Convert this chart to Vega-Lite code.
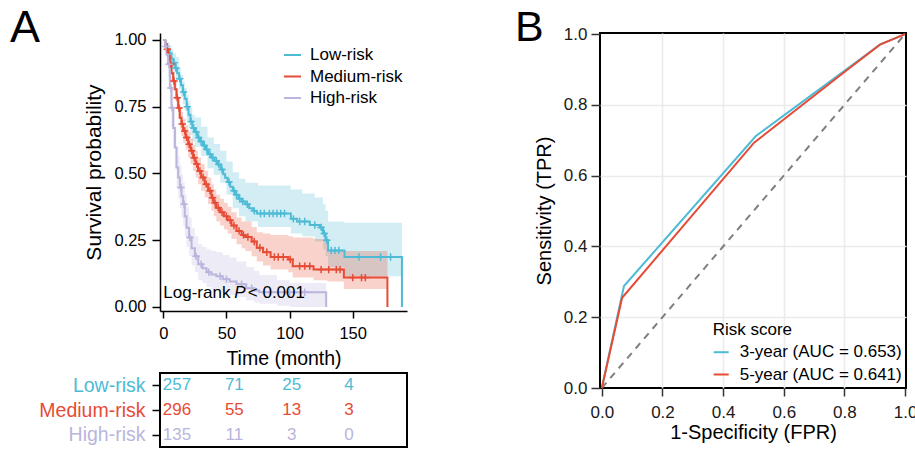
{
"$schema": "https://vega.github.io/schema/vega-lite/v6.json",
"background": "white",
"padding": {"left": 10, "top": 5, "right": 0, "bottom": 0},
"bounds": "flush",
"spacing": 440,
"resolve": {"scale": {"color": "independent", "fill": "independent", "stroke": "independent"}, "legend": {"color": "independent", "fill": "independent", "stroke": "independent"}},
"config": {
  "font": "Liberation Sans",
  "axis": {"labelFontWeight": "normal", "titleFontWeight": "normal", "grid": false, "labelColor": "#1a1a1a", "titleColor": "black", "labelFlush": false, "labelOverlap": false},
  "legend": {"titleFontWeight": "normal", "labelColor": "black", "titleColor": "black"},
  "title": {"fontWeight": "normal", "color": "black", "offset": 0}
},
"datasets": {
  "km": [
    {"g":"Low-risk","t":0,"s":1},{"g":"Low-risk","t":1.5,"s":0.985},{"g":"Low-risk","t":3,"s":0.965},{"g":"Low-risk","t":5,"s":0.95},{"g":"Low-risk","t":6.5,"s":0.93},{"g":"Low-risk","t":8,"s":0.915},{"g":"Low-risk","t":9.5,"s":0.895},{"g":"Low-risk","t":11,"s":0.875},{"g":"Low-risk","t":12.5,"s":0.855},{"g":"Low-risk","t":14,"s":0.83},{"g":"Low-risk","t":15.5,"s":0.805},{"g":"Low-risk","t":17,"s":0.78},{"g":"Low-risk","t":18.5,"s":0.75},{"g":"Low-risk","t":20,"s":0.72},{"g":"Low-risk","t":21.5,"s":0.695},{"g":"Low-risk","t":23,"s":0.67},{"g":"Low-risk","t":25,"s":0.655},{"g":"Low-risk","t":27,"s":0.635},{"g":"Low-risk","t":29,"s":0.62},{"g":"Low-risk","t":31.5,"s":0.605},{"g":"Low-risk","t":33.5,"s":0.59},{"g":"Low-risk","t":35.5,"s":0.572},{"g":"Low-risk","t":38,"s":0.56},{"g":"Low-risk","t":40.5,"s":0.548},{"g":"Low-risk","t":43,"s":0.534},{"g":"Low-risk","t":45.5,"s":0.515},{"g":"Low-risk","t":47.5,"s":0.497},{"g":"Low-risk","t":49,"s":0.484},{"g":"Low-risk","t":51,"s":0.468},{"g":"Low-risk","t":53,"s":0.45},{"g":"Low-risk","t":55,"s":0.435},{"g":"Low-risk","t":57,"s":0.42},{"g":"Low-risk","t":59.5,"s":0.405},{"g":"Low-risk","t":62,"s":0.395},{"g":"Low-risk","t":65,"s":0.385},{"g":"Low-risk","t":68,"s":0.37},{"g":"Low-risk","t":71,"s":0.36},{"g":"Low-risk","t":74,"s":0.35},{"g":"Low-risk","t":101,"s":0.33},{"g":"Low-risk","t":106,"s":0.32},{"g":"Low-risk","t":116,"s":0.307},{"g":"Low-risk","t":124,"s":0.298},{"g":"Low-risk","t":126.5,"s":0.275},{"g":"Low-risk","t":128.5,"s":0.25},{"g":"Low-risk","t":130.5,"s":0.212},{"g":"Low-risk","t":143.5,"s":0.187},{"g":"Low-risk","t":189,"s":0},
    {"g":"Medium-risk","t":0,"s":1},{"g":"Medium-risk","t":1.5,"s":0.985},{"g":"Medium-risk","t":2.6,"s":0.965},{"g":"Medium-risk","t":4,"s":0.94},{"g":"Medium-risk","t":5.2,"s":0.91},{"g":"Medium-risk","t":6.5,"s":0.875},{"g":"Medium-risk","t":7.8,"s":0.846},{"g":"Medium-risk","t":9.2,"s":0.815},{"g":"Medium-risk","t":10.5,"s":0.784},{"g":"Medium-risk","t":11.8,"s":0.745},{"g":"Medium-risk","t":13.1,"s":0.709},{"g":"Medium-risk","t":14.4,"s":0.685},{"g":"Medium-risk","t":15.7,"s":0.659},{"g":"Medium-risk","t":17.7,"s":0.635},{"g":"Medium-risk","t":19.7,"s":0.609},{"g":"Medium-risk","t":21.6,"s":0.585},{"g":"Medium-risk","t":23.6,"s":0.559},{"g":"Medium-risk","t":25.5,"s":0.535},{"g":"Medium-risk","t":27.5,"s":0.509},{"g":"Medium-risk","t":30,"s":0.485},{"g":"Medium-risk","t":32.8,"s":0.46},{"g":"Medium-risk","t":35.5,"s":0.435},{"g":"Medium-risk","t":38.1,"s":0.409},{"g":"Medium-risk","t":40,"s":0.39},{"g":"Medium-risk","t":42,"s":0.372},{"g":"Medium-risk","t":45,"s":0.355},{"g":"Medium-risk","t":48,"s":0.34},{"g":"Medium-risk","t":51,"s":0.325},{"g":"Medium-risk","t":54,"s":0.305},{"g":"Medium-risk","t":58,"s":0.285},{"g":"Medium-risk","t":62,"s":0.27},{"g":"Medium-risk","t":65,"s":0.262},{"g":"Medium-risk","t":70,"s":0.245},{"g":"Medium-risk","t":74,"s":0.222},{"g":"Medium-risk","t":79,"s":0.205},{"g":"Medium-risk","t":85,"s":0.187},{"g":"Medium-risk","t":99,"s":0.178},{"g":"Medium-risk","t":102.5,"s":0.153},{"g":"Medium-risk","t":119,"s":0.14},{"g":"Medium-risk","t":143,"s":0.11},{"g":"Medium-risk","t":177.5,"s":0},
    {"g":"High-risk","t":0,"s":1},{"g":"High-risk","t":1.3,"s":0.975},{"g":"High-risk","t":2.6,"s":0.945},{"g":"High-risk","t":3.9,"s":0.909},{"g":"High-risk","t":5.2,"s":0.82},{"g":"High-risk","t":6.5,"s":0.746},{"g":"High-risk","t":7.8,"s":0.67},{"g":"High-risk","t":9.2,"s":0.597},{"g":"High-risk","t":10.5,"s":0.522},{"g":"High-risk","t":11.8,"s":0.485},{"g":"High-risk","t":13.1,"s":0.447},{"g":"High-risk","t":14.4,"s":0.415},{"g":"High-risk","t":15.7,"s":0.385},{"g":"High-risk","t":17,"s":0.34},{"g":"High-risk","t":18.4,"s":0.297},{"g":"High-risk","t":20.4,"s":0.26},{"g":"High-risk","t":22.4,"s":0.22},{"g":"High-risk","t":25,"s":0.19},{"g":"High-risk","t":27.7,"s":0.16},{"g":"High-risk","t":31,"s":0.145},{"g":"High-risk","t":34.3,"s":0.13},{"g":"High-risk","t":38,"s":0.122},{"g":"High-risk","t":42,"s":0.115},{"g":"High-risk","t":47,"s":0.104},{"g":"High-risk","t":52.6,"s":0.095},{"g":"High-risk","t":58,"s":0.085},{"g":"High-risk","t":65.7,"s":0.07},{"g":"High-risk","t":72,"s":0.062},{"g":"High-risk","t":76,"s":0.055},{"g":"High-risk","t":129,"s":0}
  ],
  "band": [
    {"g":"Low-risk","t":0,"lo":1,"hi":1},{"g":"Low-risk","t":1.5,"lo":0.97,"hi":1},{"g":"Low-risk","t":3,"lo":0.94,"hi":0.99},{"g":"Low-risk","t":5,"lo":0.92,"hi":0.98},{"g":"Low-risk","t":6.5,"lo":0.895,"hi":0.965},{"g":"Low-risk","t":8,"lo":0.875,"hi":0.95},{"g":"Low-risk","t":10,"lo":0.85,"hi":0.935},{"g":"Low-risk","t":12.5,"lo":0.815,"hi":0.895},{"g":"Low-risk","t":14,"lo":0.785,"hi":0.87},{"g":"Low-risk","t":15.5,"lo":0.76,"hi":0.845},{"g":"Low-risk","t":17,"lo":0.735,"hi":0.82},{"g":"Low-risk","t":18.5,"lo":0.7,"hi":0.795},{"g":"Low-risk","t":20,"lo":0.67,"hi":0.77},{"g":"Low-risk","t":21.5,"lo":0.645,"hi":0.745},{"g":"Low-risk","t":23,"lo":0.62,"hi":0.72},{"g":"Low-risk","t":25,"lo":0.6,"hi":0.71},{"g":"Low-risk","t":30,"lo":0.565,"hi":0.675},{"g":"Low-risk","t":35,"lo":0.52,"hi":0.635},{"g":"Low-risk","t":40,"lo":0.495,"hi":0.61},{"g":"Low-risk","t":45,"lo":0.465,"hi":0.585},{"g":"Low-risk","t":50,"lo":0.42,"hi":0.545},{"g":"Low-risk","t":55,"lo":0.37,"hi":0.505},{"g":"Low-risk","t":60,"lo":0.34,"hi":0.48},{"g":"Low-risk","t":65,"lo":0.32,"hi":0.465},{"g":"Low-risk","t":75,"lo":0.3,"hi":0.455},{"g":"Low-risk","t":101,"lo":0.275,"hi":0.44},{"g":"Low-risk","t":110,"lo":0.265,"hi":0.425},{"g":"Low-risk","t":120,"lo":0.245,"hi":0.41},{"g":"Low-risk","t":126.5,"lo":0.215,"hi":0.385},{"g":"Low-risk","t":128.5,"lo":0.19,"hi":0.36},{"g":"Low-risk","t":130.5,"lo":0.15,"hi":0.32},{"g":"Low-risk","t":143.5,"lo":0.115,"hi":0.315},{"g":"Low-risk","t":189,"lo":0.115,"hi":0.315},
    {"g":"Medium-risk","t":0,"lo":1,"hi":1},{"g":"Medium-risk","t":1.5,"lo":0.97,"hi":1},{"g":"Medium-risk","t":2.6,"lo":0.945,"hi":0.985},{"g":"Medium-risk","t":4,"lo":0.915,"hi":0.965},{"g":"Medium-risk","t":5.2,"lo":0.88,"hi":0.94},{"g":"Medium-risk","t":6.5,"lo":0.84,"hi":0.91},{"g":"Medium-risk","t":7.8,"lo":0.81,"hi":0.88},{"g":"Medium-risk","t":9.2,"lo":0.775,"hi":0.85},{"g":"Medium-risk","t":10.5,"lo":0.745,"hi":0.82},{"g":"Medium-risk","t":11.8,"lo":0.705,"hi":0.785},{"g":"Medium-risk","t":13.1,"lo":0.665,"hi":0.75},{"g":"Medium-risk","t":14.4,"lo":0.64,"hi":0.73},{"g":"Medium-risk","t":15.7,"lo":0.615,"hi":0.705},{"g":"Medium-risk","t":17.7,"lo":0.59,"hi":0.68},{"g":"Medium-risk","t":19.7,"lo":0.56,"hi":0.655},{"g":"Medium-risk","t":21.6,"lo":0.535,"hi":0.63},{"g":"Medium-risk","t":23.6,"lo":0.51,"hi":0.605},{"g":"Medium-risk","t":25.5,"lo":0.485,"hi":0.585},{"g":"Medium-risk","t":27.5,"lo":0.46,"hi":0.56},{"g":"Medium-risk","t":30,"lo":0.435,"hi":0.535},{"g":"Medium-risk","t":32.8,"lo":0.41,"hi":0.51},{"g":"Medium-risk","t":35.5,"lo":0.385,"hi":0.485},{"g":"Medium-risk","t":38.1,"lo":0.36,"hi":0.46},{"g":"Medium-risk","t":40,"lo":0.34,"hi":0.44},{"g":"Medium-risk","t":42,"lo":0.32,"hi":0.42},{"g":"Medium-risk","t":45,"lo":0.305,"hi":0.405},{"g":"Medium-risk","t":48,"lo":0.29,"hi":0.39},{"g":"Medium-risk","t":51,"lo":0.275,"hi":0.375},{"g":"Medium-risk","t":54,"lo":0.255,"hi":0.355},{"g":"Medium-risk","t":58,"lo":0.235,"hi":0.335},{"g":"Medium-risk","t":62,"lo":0.22,"hi":0.32},{"g":"Medium-risk","t":65,"lo":0.21,"hi":0.32},{"g":"Medium-risk","t":70,"lo":0.19,"hi":0.3},{"g":"Medium-risk","t":74,"lo":0.17,"hi":0.28},{"g":"Medium-risk","t":79,"lo":0.155,"hi":0.275},{"g":"Medium-risk","t":85,"lo":0.14,"hi":0.27},{"g":"Medium-risk","t":99,"lo":0.13,"hi":0.265},{"g":"Medium-risk","t":102.5,"lo":0.11,"hi":0.26},{"g":"Medium-risk","t":119,"lo":0.1,"hi":0.255},{"g":"Medium-risk","t":130,"lo":0.095,"hi":0.21},{"g":"Medium-risk","t":143,"lo":0.067,"hi":0.21},{"g":"Medium-risk","t":177.5,"lo":0.067,"hi":0.21},
    {"g":"High-risk","t":0,"lo":1,"hi":1},{"g":"High-risk","t":1.3,"lo":0.95,"hi":1},{"g":"High-risk","t":2.6,"lo":0.905,"hi":0.98},{"g":"High-risk","t":3.9,"lo":0.86,"hi":0.955},{"g":"High-risk","t":5.2,"lo":0.76,"hi":0.88},{"g":"High-risk","t":6.5,"lo":0.675,"hi":0.815},{"g":"High-risk","t":7.8,"lo":0.595,"hi":0.745},{"g":"High-risk","t":9.2,"lo":0.52,"hi":0.675},{"g":"High-risk","t":10.5,"lo":0.445,"hi":0.6},{"g":"High-risk","t":11.8,"lo":0.405,"hi":0.565},{"g":"High-risk","t":13.1,"lo":0.37,"hi":0.53},{"g":"High-risk","t":14.4,"lo":0.335,"hi":0.495},{"g":"High-risk","t":15.7,"lo":0.305,"hi":0.465},{"g":"High-risk","t":17,"lo":0.265,"hi":0.42},{"g":"High-risk","t":18.4,"lo":0.225,"hi":0.375},{"g":"High-risk","t":20.4,"lo":0.19,"hi":0.335},{"g":"High-risk","t":22.4,"lo":0.155,"hi":0.295},{"g":"High-risk","t":25,"lo":0.13,"hi":0.265},{"g":"High-risk","t":27.7,"lo":0.1,"hi":0.235},{"g":"High-risk","t":31,"lo":0.09,"hi":0.225},{"g":"High-risk","t":34.3,"lo":0.075,"hi":0.215},{"g":"High-risk","t":38,"lo":0.065,"hi":0.21},{"g":"High-risk","t":42,"lo":0.06,"hi":0.205},{"g":"High-risk","t":47,"lo":0.052,"hi":0.195},{"g":"High-risk","t":52.6,"lo":0.045,"hi":0.185},{"g":"High-risk","t":58,"lo":0.037,"hi":0.17},{"g":"High-risk","t":65.7,"lo":0.025,"hi":0.15},{"g":"High-risk","t":72,"lo":0.018,"hi":0.135},{"g":"High-risk","t":76,"lo":0.012,"hi":0.12},{"g":"High-risk","t":90,"lo":0.005,"hi":0.1},{"g":"High-risk","t":100,"lo":0,"hi":0.09},{"g":"High-risk","t":129,"lo":0,"hi":0.09}
  ],
  "cens": [
    {"g":"Low-risk","t":8.5,"s":0.915},{"g":"Low-risk","t":10,"s":0.895},{"g":"Low-risk","t":13,"s":0.855},{"g":"Low-risk","t":16,"s":0.805},{"g":"Low-risk","t":19,"s":0.75},{"g":"Low-risk","t":22,"s":0.695},{"g":"Low-risk","t":24,"s":0.67},{"g":"Low-risk","t":26,"s":0.655},{"g":"Low-risk","t":28,"s":0.635},{"g":"Low-risk","t":30,"s":0.62},{"g":"Low-risk","t":32.5,"s":0.605},{"g":"Low-risk","t":34.5,"s":0.59},{"g":"Low-risk","t":37,"s":0.572},{"g":"Low-risk","t":39,"s":0.56},{"g":"Low-risk","t":42,"s":0.548},{"g":"Low-risk","t":44,"s":0.534},{"g":"Low-risk","t":46.5,"s":0.515},{"g":"Low-risk","t":52,"s":0.468},{"g":"Low-risk","t":56,"s":0.435},{"g":"Low-risk","t":58,"s":0.42},{"g":"Low-risk","t":60.5,"s":0.405},{"g":"Low-risk","t":63,"s":0.395},{"g":"Low-risk","t":66.5,"s":0.385},{"g":"Low-risk","t":72,"s":0.36},{"g":"Low-risk","t":77,"s":0.35},{"g":"Low-risk","t":80,"s":0.35},{"g":"Low-risk","t":84,"s":0.35},{"g":"Low-risk","t":87,"s":0.35},{"g":"Low-risk","t":90,"s":0.35},{"g":"Low-risk","t":93,"s":0.35},{"g":"Low-risk","t":96,"s":0.35},{"g":"Low-risk","t":103,"s":0.33},{"g":"Low-risk","t":108,"s":0.32},{"g":"Low-risk","t":112,"s":0.32},{"g":"Low-risk","t":120,"s":0.307},{"g":"Low-risk","t":125,"s":0.298},{"g":"Low-risk","t":127.5,"s":0.275},{"g":"Low-risk","t":129.5,"s":0.25},{"g":"Low-risk","t":133,"s":0.212},{"g":"Low-risk","t":136,"s":0.212},{"g":"Low-risk","t":139,"s":0.212},{"g":"Low-risk","t":155,"s":0.187},{"g":"Low-risk","t":172,"s":0.187},{"g":"Low-risk","t":180,"s":0.187},
    {"g":"Medium-risk","t":3.2,"s":0.965},{"g":"Medium-risk","t":6,"s":0.91},{"g":"Medium-risk","t":8.5,"s":0.846},{"g":"Medium-risk","t":11,"s":0.784},{"g":"Medium-risk","t":12.5,"s":0.745},{"g":"Medium-risk","t":15,"s":0.685},{"g":"Medium-risk","t":17,"s":0.659},{"g":"Medium-risk","t":18.5,"s":0.635},{"g":"Medium-risk","t":20.5,"s":0.609},{"g":"Medium-risk","t":22.5,"s":0.585},{"g":"Medium-risk","t":24.5,"s":0.559},{"g":"Medium-risk","t":26.5,"s":0.535},{"g":"Medium-risk","t":29,"s":0.509},{"g":"Medium-risk","t":31.5,"s":0.485},{"g":"Medium-risk","t":34,"s":0.46},{"g":"Medium-risk","t":37,"s":0.435},{"g":"Medium-risk","t":39,"s":0.409},{"g":"Medium-risk","t":41,"s":0.39},{"g":"Medium-risk","t":43.5,"s":0.372},{"g":"Medium-risk","t":46.5,"s":0.355},{"g":"Medium-risk","t":50,"s":0.34},{"g":"Medium-risk","t":53,"s":0.325},{"g":"Medium-risk","t":56,"s":0.305},{"g":"Medium-risk","t":60,"s":0.285},{"g":"Medium-risk","t":63.5,"s":0.27},{"g":"Medium-risk","t":67,"s":0.262},{"g":"Medium-risk","t":72,"s":0.245},{"g":"Medium-risk","t":76.5,"s":0.222},{"g":"Medium-risk","t":82,"s":0.205},{"g":"Medium-risk","t":88,"s":0.187},{"g":"Medium-risk","t":91,"s":0.187},{"g":"Medium-risk","t":95,"s":0.187},{"g":"Medium-risk","t":100.5,"s":0.178},{"g":"Medium-risk","t":108,"s":0.153},{"g":"Medium-risk","t":112,"s":0.153},{"g":"Medium-risk","t":116,"s":0.153},{"g":"Medium-risk","t":125,"s":0.14},{"g":"Medium-risk","t":131,"s":0.14},{"g":"Medium-risk","t":137,"s":0.14},{"g":"Medium-risk","t":140,"s":0.14},{"g":"Medium-risk","t":150,"s":0.11},{"g":"Medium-risk","t":157,"s":0.11},{"g":"Medium-risk","t":160,"s":0.11},
    {"g":"High-risk","t":2,"s":0.975},{"g":"High-risk","t":4.5,"s":0.909},{"g":"High-risk","t":6,"s":0.82},{"g":"High-risk","t":7,"s":0.746},{"g":"High-risk","t":14,"s":0.447},{"g":"High-risk","t":16.5,"s":0.385},{"g":"High-risk","t":21,"s":0.26},{"g":"High-risk","t":26,"s":0.19},{"g":"High-risk","t":30,"s":0.16},{"g":"High-risk","t":36,"s":0.13},{"g":"High-risk","t":45,"s":0.115},{"g":"High-risk","t":50,"s":0.104},{"g":"High-risk","t":62,"s":0.085},{"g":"High-risk","t":70,"s":0.07},{"g":"High-risk","t":85,"s":0.055},{"g":"High-risk","t":100,"s":0.055},{"g":"High-risk","t":112,"s":0.055}
  ],
  "lr": [{"t": 0, "s": 0.035}],
  "risk": [
    {"g":"Low-risk","t":0,"n":"257"},{"g":"Low-risk","t":50,"n":"71"},{"g":"Low-risk","t":100,"n":"25"},{"g":"Low-risk","t":150,"n":"4"},
    {"g":"Medium-risk","t":0,"n":"296"},{"g":"Medium-risk","t":50,"n":"55"},{"g":"Medium-risk","t":100,"n":"13"},{"g":"Medium-risk","t":150,"n":"3"},
    {"g":"High-risk","t":0,"n":"135"},{"g":"High-risk","t":50,"n":"11"},{"g":"High-risk","t":100,"n":"3"},{"g":"High-risk","t":150,"n":"0"}
  ],
  "roc": [
    {"model":"3-year (AUC = 0.653)","fpr":0,"tpr":0},{"model":"3-year (AUC = 0.653)","fpr":0.073,"tpr":0.288},{"model":"3-year (AUC = 0.653)","fpr":0.508,"tpr":0.712},{"model":"3-year (AUC = 0.653)","fpr":0.8,"tpr":0.896},{"model":"3-year (AUC = 0.653)","fpr":0.917,"tpr":0.97},{"model":"3-year (AUC = 0.653)","fpr":1,"tpr":1},
    {"model":"5-year (AUC = 0.641)","fpr":0,"tpr":0},{"model":"5-year (AUC = 0.641)","fpr":0.067,"tpr":0.255},{"model":"5-year (AUC = 0.641)","fpr":0.502,"tpr":0.693},{"model":"5-year (AUC = 0.641)","fpr":0.8,"tpr":0.893},{"model":"5-year (AUC = 0.641)","fpr":0.917,"tpr":0.97},{"model":"5-year (AUC = 0.641)","fpr":1,"tpr":1}
  ],
  "diag": [{"x0": 0, "y0": 0, "x1": 1, "y1": 1}]
},
"hconcat": [
  {
    "bounds": "flush",
    "spacing": 62,
    "resolve": {"scale": {"color": "independent"}, "legend": {"color": "independent"}},
    "vconcat": [
      {
        "width": 247, "height": 278,
        "view": {"stroke": null},
        "title": {"text": "A", "fontSize": 45, "anchor": "start", "frame": "group", "orient": "top", "baseline": "alphabetic", "dx": -150, "dy": 59},
        "encoding": {
          "x": {"field": "t", "type": "quantitative", "scale": {"domain": [-2.6, 193], "nice": false, "zero": false},
                "axis": {"values": [0, 50, 100, 150], "title": "Time (month)", "titleFontSize": 19.5, "labelFontSize": 16.5, "tickSize": 7, "tickWidth": 1.5, "tickColor": "black", "domainColor": "black", "domainWidth": 1.5, "labelPadding": 7.5, "titlePadding": 7, "labelColor": "black"}}
        },
        "layer": [
          {
            "data": {"name": "band"},
            "mark": {"type": "area", "interpolate": "step-after", "opacity": 0.25},
            "encoding": {
              "y": {"field": "lo", "type": "quantitative", "title": "Survival probability", "scale": {"domain": [-0.015, 1.026], "nice": false, "zero": false},
                    "axis": {"values": [0, 0.25, 0.5, 0.75, 1], "format": ".2f", "title": "Survival probability", "titleFontSize": 21, "labelFontSize": 16.5, "tickSize": 8, "tickWidth": 1.5, "tickColor": "black", "domainColor": "black", "domainWidth": 1.5, "labelPadding": 6, "titlePadding": 9, "labelColor": "black"}},
              "y2": {"field": "hi"},
              "fill": {"field": "g", "type": "nominal", "scale": {"domain": ["Low-risk", "Medium-risk", "High-risk"], "range": ["#4DBBD5", "#E64B35", "#B9B5DC"]}, "legend": null}
            }
          },
          {
            "data": {"name": "km"},
            "mark": {"type": "line", "interpolate": "step-after", "strokeWidth": 2},
            "encoding": {
              "y": {"field": "s", "type": "quantitative", "title": "Survival probability", "scale": {"domain": [-0.015, 1.026], "nice": false, "zero": false}},
              "color": {"field": "g", "type": "nominal", "scale": {"domain": ["Low-risk", "Medium-risk", "High-risk"], "range": ["#4DBBD5", "#E64B35", "#B9B5DC"]},
                        "legend": {"orient": "none", "legendX": 123, "legendY": 12.5, "title": null, "symbolType": "stroke", "symbolSize": 289, "symbolStrokeWidth": 2, "labelFontSize": 17, "labelOffset": 8, "rowPadding": 3.5, "padding": 0}}
            }
          },
          {
            "data": {"name": "cens"},
            "mark": {"type": "point", "shape": "M-1,0L1,0M0,-1L0,1", "filled": false, "size": 55, "strokeWidth": 1.5, "opacity": 1},
            "encoding": {
              "y": {"field": "s", "type": "quantitative", "title": "Survival probability", "scale": {"domain": [-0.015, 1.026], "nice": false, "zero": false}},
              "stroke": {"field": "g", "type": "nominal", "scale": {"domain": ["Low-risk", "Medium-risk", "High-risk"], "range": ["#4DBBD5", "#E64B35", "#B9B5DC"]}, "legend": null}
            }
          },
          {
            "data": {"name": "lr"},
            "mark": {"type": "text", "text": "Log-rank", "align": "left", "baseline": "alphabetic", "fontSize": 17, "color": "black"},
            "encoding": {"y": {"field": "s", "type": "quantitative", "title": "Survival probability", "scale": {"domain": [-0.015, 1.026], "nice": false, "zero": false}}}
          },
          {
            "data": {"name": "lr"},
            "mark": {"type": "text", "text": "P", "align": "left", "baseline": "alphabetic", "fontSize": 17, "fontStyle": "italic", "color": "black", "dx": 71},
            "encoding": {"y": {"field": "s", "type": "quantitative", "title": "Survival probability", "scale": {"domain": [-0.015, 1.026], "nice": false, "zero": false}}}
          },
          {
            "data": {"name": "lr"},
            "mark": {"type": "text", "text": "< 0.001", "align": "left", "baseline": "alphabetic", "fontSize": 17, "color": "black", "dx": 84.5},
            "encoding": {"y": {"field": "s", "type": "quantitative", "title": "Survival probability", "scale": {"domain": [-0.015, 1.026], "nice": false, "zero": false}}}
          }
        ]
      },
      {
        "width": 247, "height": 74,
        "view": {"stroke": "black", "strokeWidth": 2},
        "data": {"name": "risk"},
        "mark": {"type": "text", "fontSize": 17, "baseline": "middle", "align": "center"},
        "encoding": {
          "x": {"field": "t", "type": "quantitative", "scale": {"domain": [-14.8, 200.5], "nice": false, "zero": false}, "axis": null},
          "y": {"field": "g", "type": "nominal", "scale": {"domain": ["Low-risk", "Medium-risk", "High-risk"]},
                "axis": {"title": null, "domain": false, "tickColor": "black", "tickSize": 8, "tickWidth": 1.5, "labelFontSize": 19.5, "labelPadding": 7, "labelLimit": 300,
                         "labelColor": {"condition": [{"test": "datum.value === 'Low-risk'", "value": "#4DBBD5"}, {"test": "datum.value === 'Medium-risk'", "value": "#E64B35"}], "value": "#B9B5DC"}}},
          "text": {"field": "n", "type": "nominal"},
          "color": {"field": "g", "type": "nominal", "scale": {"domain": ["Low-risk", "Medium-risk", "High-risk"], "range": ["#4DBBD5", "#E64B35", "#B9B5DC"]}, "legend": null}
        }
      }
    ]
  },
  {
    "width": 306, "height": 355,
    "view": {"stroke": "black", "strokeWidth": 2},
    "title": {"text": "B", "fontSize": 43, "anchor": "start", "frame": "group", "orient": "top", "baseline": "alphabetic", "dx": -85, "dy": 63.2},
    "layer": [
      {
        "data": {"name": "diag"},
        "mark": {"type": "rule", "strokeDash": [7, 6], "color": "#7F7F7F", "strokeWidth": 2},
        "encoding": {
          "x": {"field": "x0", "type": "quantitative", "title": "1-Specificity (FPR)", "scale": {"domain": [-0.006, 1.003], "nice": false, "zero": false},
                "axis": {"values": [0, 0.1, 0.2, 0.3, 0.4, 0.5, 0.6, 0.7, 0.8, 0.9, 1], "title": "1-Specificity (FPR)", "grid": true, "gridColor": "#EBEBEB",
                         "gridWidth": {"condition": {"test": "round(datum.value*10)%2==1", "value": 0.8}, "value": 1.6},
                         "gridOpacity": {"condition": {"test": "datum.value < 0.01 || datum.value > 0.99", "value": 0}, "value": 1},
                         "tickOpacity": {"condition": {"test": "round(datum.value*10)%2==1", "value": 0}, "value": 1},
                         "labelExpr": "round(datum.value*10)%2==1 ? '' : format(datum.value, '.1f')",
                         "domain": false, "tickColor": "#333333", "tickSize": 8, "tickWidth": 1.5, "labelFontSize": 17, "labelPadding": 8.5, "titleFontSize": 20, "titlePadding": 2}},
          "y": {"field": "y0", "type": "quantitative", "title": "Sensitivity (TPR)", "scale": {"domain": [0, 1.003], "nice": false, "zero": false},
                "axis": {"values": [0, 0.1, 0.2, 0.3, 0.4, 0.5, 0.6, 0.7, 0.8, 0.9, 1], "title": "Sensitivity (TPR)", "grid": true, "gridColor": "#EBEBEB",
                         "gridWidth": {"condition": {"test": "round(datum.value*10)%2==1", "value": 0.8}, "value": 1.6},
                         "gridOpacity": {"condition": {"test": "datum.value < 0.01 || datum.value > 0.99", "value": 0}, "value": 1},
                         "tickOpacity": {"condition": {"test": "round(datum.value*10)%2==1", "value": 0}, "value": 1},
                         "labelExpr": "round(datum.value*10)%2==1 ? '' : format(datum.value, '.1f')",
                         "domain": false, "tickColor": "#333333", "tickSize": 9, "tickWidth": 1.5, "labelFontSize": 17, "labelPadding": 4, "titleFontSize": 20, "titlePadding": 8.5}},
          "x2": {"field": "x1"},
          "y2": {"field": "y1"}
        }
      },
      {
        "data": {"name": "roc"},
        "mark": {"type": "line", "strokeWidth": 2},
        "encoding": {
          "x": {"field": "fpr", "type": "quantitative", "title": "1-Specificity (FPR)", "scale": {"domain": [-0.006, 1.003], "nice": false, "zero": false}},
          "y": {"field": "tpr", "type": "quantitative", "title": "Sensitivity (TPR)", "scale": {"domain": [0, 1.003], "nice": false, "zero": false}},
          "color": {"field": "model", "type": "nominal", "scale": {"range": ["#4DBBD5", "#E64B35"]},
                    "legend": {"orient": "none", "legendX": 112.7, "legendY": 288.7, "title": "Risk score", "titleFontSize": 17, "titlePadding": 5, "symbolType": "stroke", "symbolSize": 225, "symbolStrokeWidth": 2, "labelFontSize": 17, "labelOffset": 10, "rowPadding": 4.3, "padding": 0, "labelLimit": 400}}
        }
      }
    ]
  }
]
}
